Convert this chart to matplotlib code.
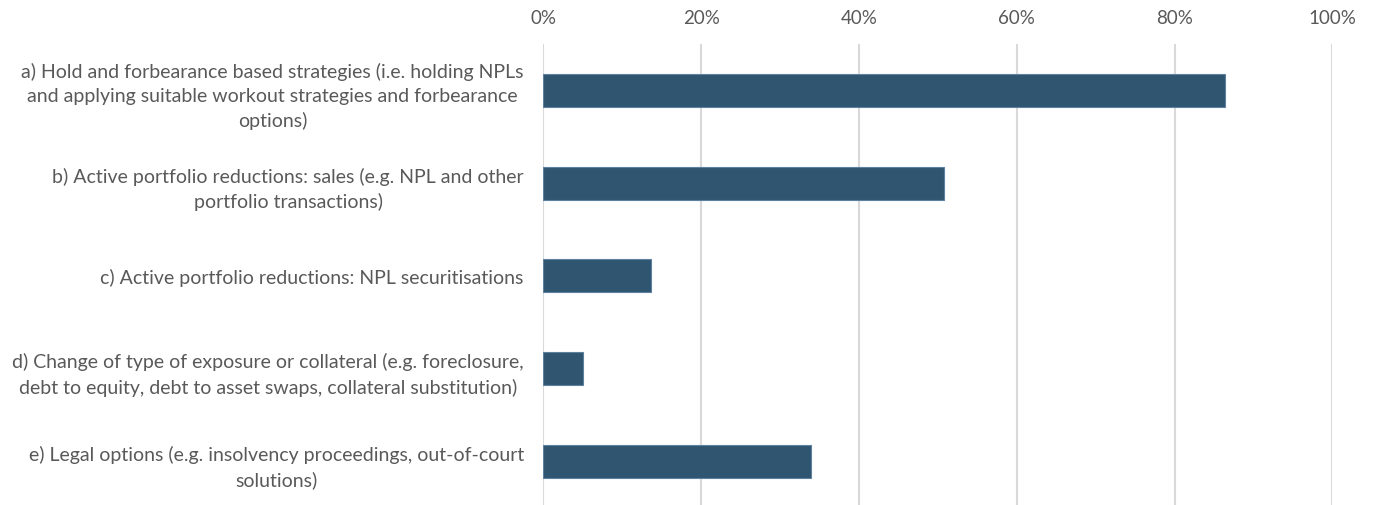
import matplotlib
matplotlib.use("Agg")
import matplotlib.pyplot as plt
from matplotlib.ticker import PercentFormatter

categories = [
    "a) Hold and forbearance based strategies (i.e. holding NPLs\nand applying suitable workout strategies and forbearance\noptions)",
    "b) Active portfolio reductions: sales (e.g. NPL and other\nportfolio transactions)",
    "c) Active portfolio reductions: NPL securitisations",
    "d) Change of type of exposure or collateral (e.g. foreclosure,\ndebt to equity, debt to asset swaps, collateral substitution)",
    "e) Legal options (e.g. insolvency proceedings, out-of-court\nsolutions)",
]
values = [0.864, 0.508, 0.136, 0.050, 0.339]
xticks = [0, 0.2, 0.4, 0.6, 0.8, 1.0]

plt.rcParams['font.family'] = ['Lato', 'DejaVu Sans']
fig = plt.figure(figsize=(13.75, 5.06), dpi=100)
ax = fig.add_axes([543.3/1375, -0.005, (1332.3-543.3)/1375, 1 - 45/506 + 0.005])

y = list(range(len(categories)))
ax.barh(y, values, height=0.356, color='#2F5571', edgecolor='#5F81A0', linewidth=0.8, zorder=3)
ax.set_ylim(len(categories) - 0.5, -0.5)
ax.set_xlim(0, 1.0)
ax.set_xticks(xticks)
ax.xaxis.set_major_formatter(PercentFormatter(1.0, decimals=0))
ax.xaxis.tick_top()
ax.tick_params(axis='x', length=0, pad=13, labelsize=13.5, labelcolor='#595959')
ax.set_yticks(y)
ax.set_yticklabels(categories, ha='right', multialignment='center', fontsize=14, color='#595959', linespacing=1.5)
ax.tick_params(axis='y', length=0, pad=14)
ax.grid(axis='x', color='#D9D9D9', linewidth=1.5, zorder=0)
for s in ax.spines.values():
    s.set_visible(False)

fig.savefig("out.png", dpi=100)
